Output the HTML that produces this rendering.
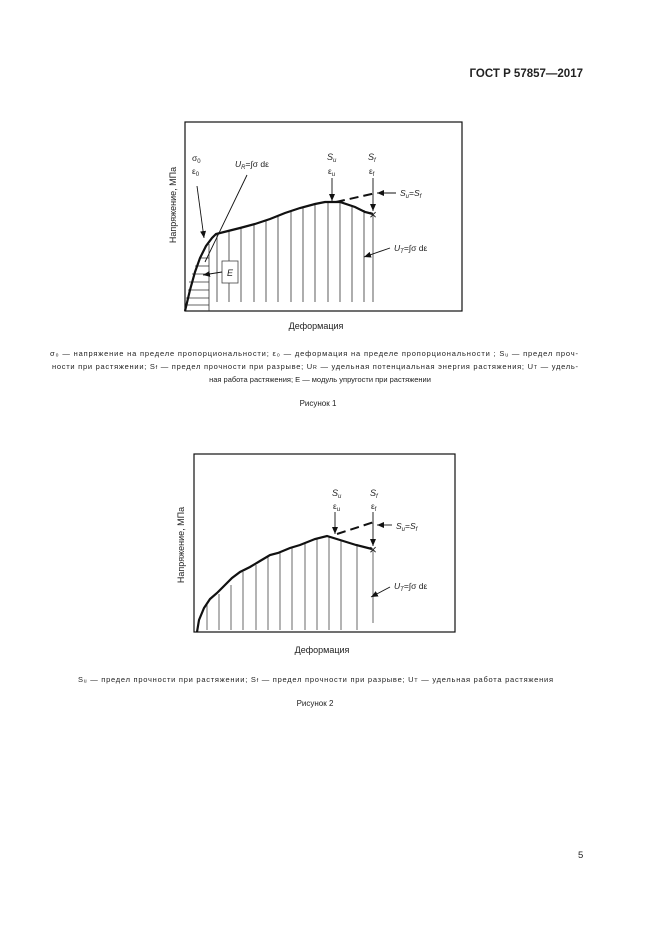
<!DOCTYPE html>
<html><head><meta charset="utf-8"><style>
html,body{margin:0;padding:0;background:#fff;width:661px;height:936px;overflow:hidden}
svg{display:block}
text{font-family:"Liberation Sans",sans-serif;fill:#222}
</style></head><body>
<svg width="661" height="936" viewBox="0 0 661 936">
<defs><marker id="ar" markerWidth="8" markerHeight="8" refX="7" refY="4" orient="auto" markerUnits="userSpaceOnUse"><path d="M0,1 L7,4 L0,7 Z" fill="#111"/></marker></defs>
<text x="583" y="77" font-size="11.5" font-weight="bold" text-anchor="end">ГОСТ Р 57857—2017</text>

<!-- Chart 1 -->
<rect x="185" y="122" width="277" height="189" fill="none" stroke="#111" stroke-width="1.2"/>
<g stroke="#333" stroke-width="0.8">
<line x1="217" y1="234" x2="217" y2="302"/><line x1="229" y1="231" x2="229" y2="302"/><line x1="241" y1="228" x2="241" y2="302"/><line x1="254" y1="225" x2="254" y2="302"/><line x1="266" y1="221" x2="266" y2="302"/><line x1="278" y1="216" x2="278" y2="302"/><line x1="291" y1="212" x2="291" y2="302"/><line x1="303" y1="208" x2="303" y2="302"/><line x1="315" y1="205" x2="315" y2="302"/><line x1="328" y1="203" x2="328" y2="302"/><line x1="340" y1="202" x2="340" y2="302"/><line x1="352" y1="206" x2="352" y2="302"/><line x1="364" y1="210" x2="364" y2="302"/><line x1="373" y1="214" x2="373" y2="302"/>
<line x1="209" y1="244" x2="209" y2="311"/>
<line x1="200" y1="258" x2="209" y2="258"/><line x1="195" y1="266" x2="209" y2="266"/><line x1="192" y1="274" x2="209" y2="274"/><line x1="189" y1="282" x2="209" y2="282"/><line x1="188" y1="290" x2="209" y2="290"/><line x1="186" y1="298" x2="209" y2="298"/><line x1="186" y1="305" x2="209" y2="305"/>
</g>
<path d="M185,311 L190,290 L195,272 L200,258 L206,246 L212,238 L216,234 L228,231 L240,228 L255,224 L270,219 L285,213 L300,208 L315,204 L325,202 L340,202 L355,207 L365,212 L373,214" fill="none" stroke="#111" stroke-width="2.2"/>
<line x1="336" y1="202" x2="376" y2="193" stroke="#111" stroke-width="2" stroke-dasharray="9,5"/>
<text x="373" y="219" font-size="13" text-anchor="middle">×</text>
<rect x="222" y="261" width="16" height="22" fill="#fff" stroke="#444" stroke-width="0.8"/>
<text x="230" y="276" font-size="9" font-style="italic" text-anchor="middle">E</text>
<g stroke="#111" stroke-width="0.9" fill="none">
<line x1="197" y1="186" x2="204" y2="238" marker-end="url(#ar)"/>
<line x1="247" y1="175" x2="205" y2="262"/>
<line x1="222" y1="272" x2="203" y2="275" marker-end="url(#ar)"/>
<line x1="332" y1="178" x2="332" y2="201" marker-end="url(#ar)"/>
<line x1="373" y1="178" x2="373" y2="211" marker-end="url(#ar)"/>
<line x1="396" y1="193" x2="377" y2="193" marker-end="url(#ar)"/>
<line x1="390" y1="248" x2="364" y2="257" marker-end="url(#ar)"/>
</g>
<text x="192" y="161" font-size="8.5">σ<tspan font-size="6" dy="2">0</tspan></text>
<text x="192" y="174" font-size="8.5">ε<tspan font-size="6" dy="2">0</tspan></text>
<text x="235" y="167" font-size="8.5"><tspan font-style="italic">U</tspan><tspan font-size="6" dy="2" font-style="italic">R</tspan><tspan dy="-2">=∫σ dε</tspan></text>
<text x="327" y="160" font-size="9" font-style="italic">S<tspan font-size="6" dy="2">u</tspan></text>
<text x="328" y="174" font-size="8.5">ε<tspan font-size="6" dy="2">u</tspan></text>
<text x="368" y="160" font-size="9" font-style="italic">S<tspan font-size="6" dy="2">f</tspan></text>
<text x="369" y="174" font-size="8.5">ε<tspan font-size="6" dy="2">f</tspan></text>
<text x="400" y="196" font-size="8.5" font-style="italic">S<tspan font-size="6" dy="2">u</tspan><tspan dy="-2" font-style="normal">=</tspan>S<tspan font-size="6" dy="2">f</tspan></text>
<text x="394" y="251" font-size="8.5"><tspan font-style="italic">U</tspan><tspan font-size="6" dy="2" font-style="italic">T</tspan><tspan dy="-2">=∫σ dε</tspan></text>
<text transform="translate(176,205) rotate(-90)" font-size="9" text-anchor="middle">Напряжение, МПа</text>
<text x="316" y="329" font-size="9" text-anchor="middle">Деформация</text>

<g font-size="7.5">
<text x="50" y="356" textLength="528" lengthAdjust="spacing">σ₀ — напряжение на пределе пропорциональности; ε₀ — деформация на пределе пропорциональности ; Sᵤ — предел проч-</text>
<text x="52" y="369" textLength="526" lengthAdjust="spacing">ности при растяжении; S<tspan font-size="5.5">f</tspan> — предел прочности при разрыве; U<tspan font-size="5.5">R</tspan> — удельная потенциальная энергия растяжения; U<tspan font-size="5.5">T</tspan> — удель-</text>
<text x="320" y="382" text-anchor="middle">ная работа растяжения; E — модуль упругости при растяжении</text>
<text x="318" y="406" text-anchor="middle" font-size="8">Рисунок 1</text>
</g>

<!-- Chart 2 -->
<rect x="194" y="454" width="261" height="178" fill="none" stroke="#111" stroke-width="1.2"/>
<g stroke="#444" stroke-width="0.8">
<line x1="207" y1="605" x2="207" y2="630"/><line x1="219" y1="594" x2="219" y2="630"/><line x1="231" y1="585" x2="231" y2="630"/><line x1="243" y1="572" x2="243" y2="630"/><line x1="256" y1="565" x2="256" y2="630"/><line x1="268" y1="557" x2="268" y2="630"/><line x1="280" y1="552" x2="280" y2="630"/><line x1="292" y1="547" x2="292" y2="630"/><line x1="305" y1="543" x2="305" y2="630"/><line x1="317" y1="538" x2="317" y2="630"/><line x1="329" y1="536" x2="329" y2="630"/><line x1="341" y1="540" x2="341" y2="630"/><line x1="357" y1="544" x2="357" y2="630"/><line x1="373" y1="549" x2="373" y2="623"/>
</g>
<path d="M197,632 L199,620 L204,608 L210,599 L217,593 L224,586 L232,578 L240,572 L250,567 L260,561 L270,555 L278,553 L290,548 L300,545 L315,539 L327,536 L340,540 L356,545 L372,549" fill="none" stroke="#111" stroke-width="2.2"/>
<line x1="337" y1="534" x2="374" y2="522" stroke="#111" stroke-width="2" stroke-dasharray="9,5"/>
<text x="373" y="554" font-size="13" text-anchor="middle">×</text>
<g stroke="#111" stroke-width="0.9">
<line x1="335" y1="512" x2="335" y2="534" marker-end="url(#ar)"/>
<line x1="373" y1="512" x2="373" y2="546" marker-end="url(#ar)"/>
<line x1="392" y1="525" x2="377" y2="525" marker-end="url(#ar)"/>
<line x1="390" y1="587" x2="371" y2="597" marker-end="url(#ar)"/>
</g>
<text x="332" y="496" font-size="9" font-style="italic">S<tspan font-size="6" dy="2">u</tspan></text>
<text x="333" y="509" font-size="8.5">ε<tspan font-size="6" dy="2">u</tspan></text>
<text x="370" y="496" font-size="9" font-style="italic">S<tspan font-size="6" dy="2">f</tspan></text>
<text x="371" y="509" font-size="8.5">ε<tspan font-size="6" dy="2">f</tspan></text>
<text x="396" y="529" font-size="8.5" font-style="italic">S<tspan font-size="6" dy="2">u</tspan><tspan dy="-2" font-style="normal">=</tspan>S<tspan font-size="6" dy="2">f</tspan></text>
<text x="394" y="589" font-size="8.5"><tspan font-style="italic">U</tspan><tspan font-size="6" dy="2" font-style="italic">T</tspan><tspan dy="-2">=∫σ dε</tspan></text>
<text transform="translate(184,545) rotate(-90)" font-size="9" text-anchor="middle">Напряжение, МПа</text>
<text x="322" y="653" font-size="9" text-anchor="middle">Деформация</text>

<g font-size="7.5">
<text x="78" y="682" textLength="475" lengthAdjust="spacing">Sᵤ — предел прочности при растяжении; S<tspan font-size="5.5">f</tspan> — предел прочности при разрыве; U<tspan font-size="5.5">T</tspan> — удельная работа растяжения</text>
<text x="315" y="706" text-anchor="middle" font-size="8">Рисунок 2</text>
</g>
<text x="578" y="858" font-size="9.5">5</text>
</svg>
</body></html>
